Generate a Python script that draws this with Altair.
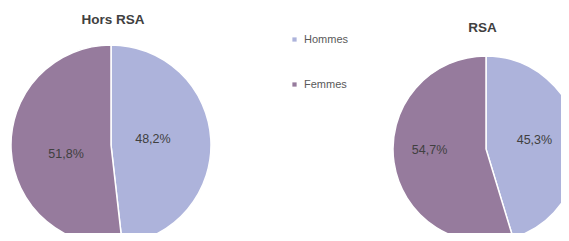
import altair as alt
import pandas as pd

sexes = ["Hommes", "Femmes"]
hors_rsa = [48.2, 51.8]
rsa = [45.3, 54.7]
titles = ["Hors RSA", "RSA"]
colors = ["#ADB3DB", "#967B9D"]


def frame(values):
    return pd.DataFrame({
        "sexe": sexes,
        "value": values,
        "idx": list(range(len(sexes))),
        "label": [f"{v:.1f}%".replace(".", ",") for v in values],
    })


color = alt.Color(
    "sexe:N",
    scale=alt.Scale(domain=sexes, range=colors),
    legend=alt.Legend(
        title=None, orient="none", legendX=281, legendY=26,
        symbolType="square", symbolSize=18, symbolStrokeWidth=0,
        labelFontSize=11, labelColor="#595959", labelFont="Liberation Sans",
        rowPadding=33, labelOffset=4,
    ),
)


def pie(values, title, cx, cy, r, label_opts, tx, ty):
    df = frame(values)
    base = alt.Chart(df).encode(
        theta=alt.Theta("value:Q", stack=True),
        order=alt.Order("idx:Q"),
        x=alt.value(cx), y=alt.value(cy),
    )
    arc = base.mark_arc(outerRadius=r, stroke="white", strokeWidth=1.5).encode(color=color)
    layers = [arc]
    for i, (lr, dx, dy) in enumerate(label_opts):
        layers.append(
            base.mark_text(radius=lr, dx=dx, dy=dy, fontSize=12.5,
                           font="Liberation Sans", color="#404040")
            .encode(text="label:N", opacity=alt.condition(
                alt.datum.idx == i, alt.value(1), alt.value(0)))
        )
    ttl = alt.Chart(pd.DataFrame({"t": [title]})).mark_text(
        fontSize=13.5, fontWeight="bold", font="Liberation Sans", color="#404040"
    ).encode(text="t:N", x=alt.value(tx), y=alt.value(ty))
    layers.append(ttl)
    return alt.layer(*layers).resolve_scale(theta="independent")


left = pie(hors_rsa, titles[0], 103, 137, 100,
           [(45, -3, -3), (45, 0, 6)], 105, 12)
right = pie(rsa, titles[1], 478, 141, 93,
            [(52, -3, -1), (52, -5, -7)], 474.5, 19.5)

chart = alt.layer(left, right).resolve_scale(theta="independent").properties(
    width=553, height=225,
    autosize=alt.AutoSizeParams(type="none"),
    padding=0,
).configure_view(stroke=None)

chart.save("out.html", embed_options={"renderer": "svg", "actions": False})
